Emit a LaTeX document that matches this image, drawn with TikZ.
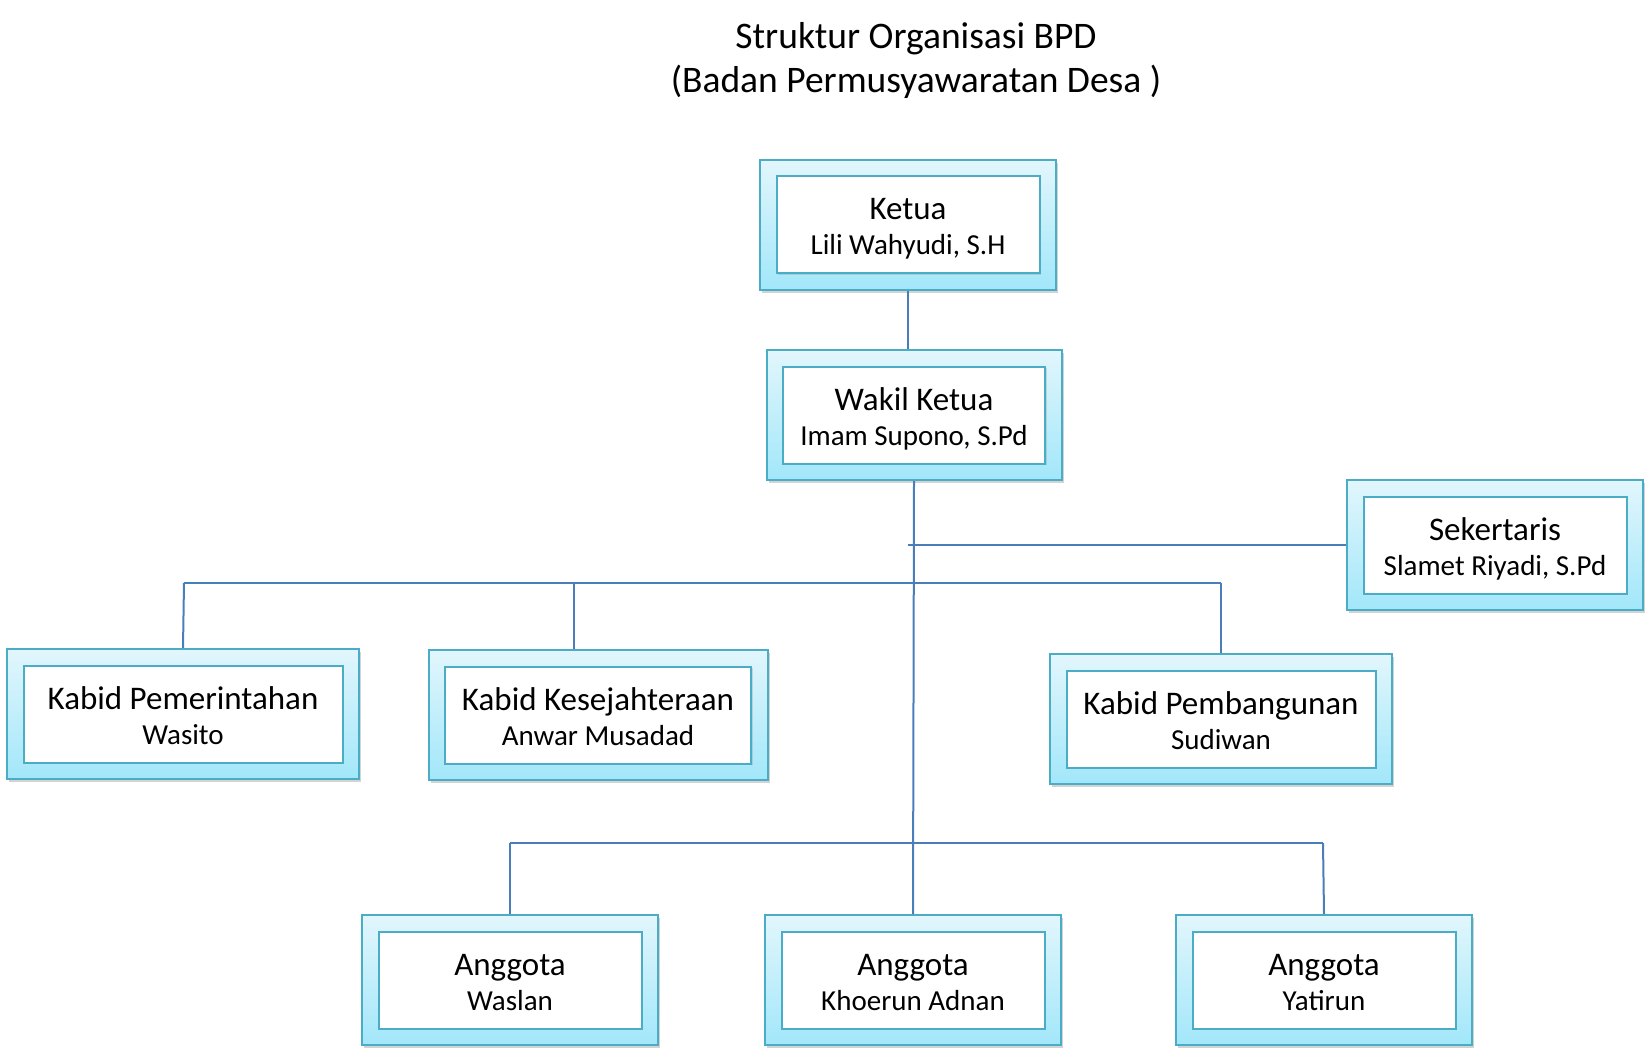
\documentclass[tikz,border=0pt]{standalone}
\usepackage{fontspec}
\setmainfont{Carlito}
\usetikzlibrary{shadows}
\definecolor{boxedge}{HTML}{4BACC6}
\definecolor{toptint}{HTML}{E2F6FC}
\definecolor{bottint}{HTML}{A2E7FA}
\definecolor{linkblue}{HTML}{4A7EBB}
\tikzset{
  outerbox/.style={draw=boxedge, line width=2pt, top color=toptint, bottom color=bottint,
    minimum height=130pt, inner sep=0pt,
    drop shadow={opacity=0.35, shadow xshift=2pt, shadow yshift=-3pt}},
  innerbox/.style={draw=boxedge, line width=2pt, fill=white, minimum height=97pt, inner sep=0pt,
    drop shadow={opacity=0.25, shadow xshift=1.5pt, shadow yshift=-1.5pt}},
  headtext/.style={anchor=base, font=\fontsize{33}{40}\selectfont, inner sep=0pt},
  nametext/.style={anchor=base, font=\fontsize{29}{35}\selectfont, inner sep=0pt},
  titletext/.style={anchor=base, font=\fontsize{37.5}{45}\selectfont, inner sep=0pt},
  link/.style={draw=linkblue, line width=2pt},
}
\newcommand{\orgbox}[6]{% name, x, y, width, line1, line2
  \node[outerbox, minimum width=#4pt] (#1) at (#2,#3) {};
  \node[innerbox, minimum width=#4pt-33pt] (#1-in) at (#2,#3) {};
  \node[headtext] (#1-t1) at (#2,#3-5) {#5};
  \node[nametext] (#1-t2) at (#2,#3+30) {#6};
}
\begin{document}
\begin{tikzpicture}[x=1pt,y=-1pt]
\useasboundingbox (0,0) rectangle (1651,1056);
% title
\node[titletext] (title1) at (916,49) {Struktur Organisasi BPD};
\node[titletext] (title2) at (916,93) {(Badan Permusyawaratan Desa )};
% junction coordinates
\coordinate (sekj) at (908,545);
\coordinate (kbL) at (184,583);
\coordinate (kbM) at (574,583);
\coordinate (kbR) at (1221,583);
\coordinate (agL) at (510,843);
\coordinate (agR) at (1323,843);
% boxes
\orgbox{ketua}{908}{225}{296}{Ketua}{Lili Wahyudi, S.H}
\orgbox{wakil}{914}{415}{295}{Wakil Ketua}{Imam Supono, S.Pd}
\orgbox{sek}{1495}{545}{296}{Sekertaris}{Slamet Riyadi, S.Pd}
\orgbox{pem}{183}{714}{352}{Kabid Pemerintahan}{Wasito}
\orgbox{kes}{598}{715}{339}{Kabid Kesejahteraan}{Anwar Musadad}
\orgbox{bang}{1221}{719}{342}{Kabid Pembangunan}{Sudiwan}
\orgbox{ang1}{510}{980}{296}{Anggota}{Waslan}
\orgbox{ang2}{913}{980}{296}{Anggota}{Khoerun Adnan}
\orgbox{ang3}{1324}{980}{296}{Anggota}{Yatirun}
% connectors
\draw[link] (ketua.south) -- (ketua.south |- wakil.north);
\draw[link] (wakil.south) -- (ang2.north);
\draw[link] (sekj) -- (sek.west);
\draw[link] (kbL) -- (kbR);
\draw[link] (kbL) -- (pem.north);
\draw[link] (kbM) -- (kbM |- kes.north);
\draw[link] (kbR) -- (bang.north);
\draw[link] (agL) -- (agR);
\draw[link] (agL) -- (ang1.north);
\draw[link] (agR) -- (ang3.north);
\end{tikzpicture}
\end{document}
